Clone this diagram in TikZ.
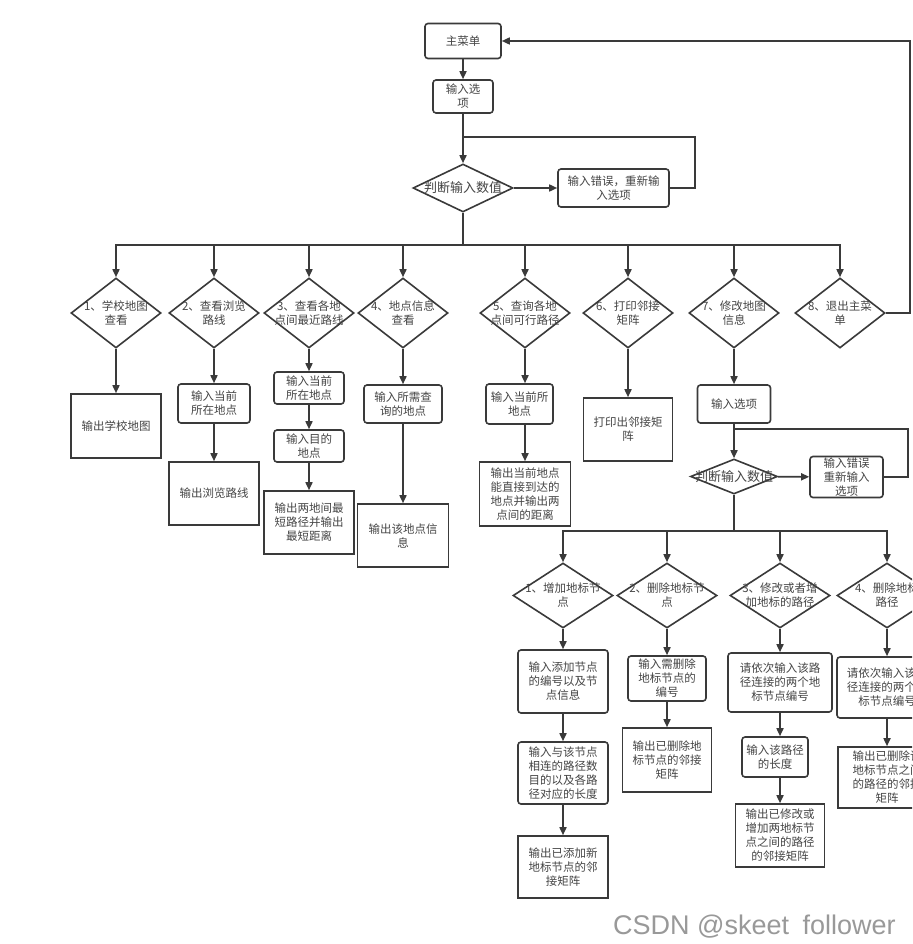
\documentclass[tikz,border=0pt]{standalone}
\usepackage{fontspec}
\setmainfont{Noto Sans CJK SC}
\newfontfamily\wmfont{Liberation Sans}
\usetikzlibrary{shapes.geometric,arrows.meta,calc}
\definecolor{lncol}{HTML}{3A3A3A}
\definecolor{txcol}{HTML}{454545}
\begin{document}
\begin{tikzpicture}[x=1pt,y=-1pt,
  every node/.style={font=\fontsize{11.5}{14}\selectfont, text=txcol},
  basebox/.style={draw=lncol, line width=1.6pt, align=center, inner sep=0pt, fill=white, rectangle},
  rbox/.style={basebox, rounded corners=3pt},
  sbox/.style={basebox},
  dia/.style={draw=lncol, line width=1.6pt, diamond, inner sep=0pt, fill=white},
  dtext/.style={align=center, inner sep=0pt},
  bigtext/.style={dtext, font=\fontsize{13}{15}\selectfont},
  arr/.style={draw=lncol, line width=1.6pt, -{Triangle[length=8pt,width=7pt]}},
  wire/.style={draw=lncol, line width=1.6pt}]
\useasboundingbox (0,0) rectangle (912,944);
\fill[white] (0,0) rectangle (912,944);
\clip (0,0) rectangle (912,944);

% ---------- top ----------
\node[rbox, minimum width=76, minimum height=35] (menu) at (463,41) {主菜单};
\node[rbox, minimum width=60, minimum height=33] (opt) at (463,96.5) {输入选\\项};
\node[dia, minimum width=100, minimum height=48] (jd) at (463,188) {};
\node[bigtext] (jdt) at (jd) {判断输入数值};
\node[rbox, minimum width=111, minimum height=38] (err) at (613.5,188) {输入错误，重新输\\入选项};
\coordinate (loopA) at (463,137);
\coordinate (loopAR) at (695,137);
\coordinate (bus) at (463,245);
\coordinate (retR) at (910,41);

\draw[arr] (menu) -- (opt);
\draw[arr] (opt) -- (jd);
\draw[arr] (jd) -- (err);
\draw[wire] (err.east) -| (loopAR) -- (loopA);
\draw[wire] (jd.south) -- (bus);

% ---------- main options ----------
\foreach \n/\x/\t in {d1/116/{1、学校地图\\查看}, d2/214/{2、查看浏览\\路线}, d3/309/{3、查看各地\\点间最近路线}, d4/403/{4、地点信息\\查看}, d5/525/{5、查询各地\\点间可行路径}, d6/628/{6、打印邻接\\矩阵}, d7/734/{7、修改地图\\信息}, d8/840/{8、退出主菜\\单}}{
  \node[dia, minimum width=90, minimum height=70] (\n) at (\x,313) {};
  \node[dtext] (\n t) at (\n) {\t};
  \draw[arr] (bus) -| (\n.north);
}
\draw[arr] (d8.east) -| (retR) -- (menu.east);

% column 1
\node[sbox, minimum width=90, minimum height=64] (o1) at (116,426) {输出学校地图};
\draw[arr] (d1) -- (o1);
% column 2
\node[rbox, minimum width=72, minimum height=39] (i2) at (214,403.5) {输入当前\\所在地点};
\node[sbox, minimum width=90, minimum height=63] (o2) at (214,493.5) {输出浏览路线};
\draw[arr] (d2) -- (i2);
\draw[arr] (i2) -- (o2);
% column 3
\node[rbox, minimum width=70, minimum height=32] (i3a) at (309,388) {输入当前\\所在地点};
\node[rbox, minimum width=70, minimum height=32] (i3b) at (309,446) {输入目的\\地点};
\node[sbox, minimum width=90, minimum height=63] (o3) at (309,522.5) {输出两地间最\\短路径并输出\\最短距离};
\draw[arr] (d3) -- (i3a);
\draw[arr] (i3a) -- (i3b);
\draw[arr] (i3b) -- (o3);
% column 4
\node[rbox, minimum width=78, minimum height=38] (i4) at (403,404) {输入所需查\\询的地点};
\node[sbox, minimum width=91, minimum height=63] (o4) at (403,535.5) {输出该地点信\\息};
\draw[arr] (d4) -- (i4);
\draw[arr] (i4) -- (o4);
% column 5
\node[rbox, minimum width=67, minimum height=40] (i5) at (519.5,404) {输入当前所\\地点};
\node[sbox, minimum width=91, minimum height=64] (o5) at (525,494) {输出当前地点\\能直接到达的\\地点并输出两\\点间的距离};
\draw[arr] (d5.south) -- (d5.south |- i5.north);
\draw[arr] (d5.south |- i5.south) -- (o5);
% column 6
\node[sbox, minimum width=89, minimum height=63] (o6) at (628,429.5) {打印出邻接矩\\阵};
\draw[arr] (d6) -- (o6);
% column 7
\node[rbox, minimum width=73, minimum height=38] (i7) at (734,404) {输入选项};
\node[dia, minimum width=87, minimum height=35] (jd2) at (734,476.5) {};
\node[bigtext] (jd2t) at (jd2) {判断输入数值};
\node[rbox, minimum width=73, minimum height=41] (err2) at (846.5,477) {输入错误\\重新输入\\选项};
\coordinate (loopB) at (734,429);
\coordinate (loopBR) at (908,429);
\coordinate (bus2) at (734,531);
\draw[arr] (d7) -- (i7);
\draw[arr] (i7) -- (jd2);
\draw[arr] (jd2) -- (err2);
\draw[wire] (err2.east) -| (loopBR) -- (loopB);
\draw[wire] (jd2.south) -- (bus2);

% ---------- sub options ----------
\foreach \n/\x/\t in {s1/563/{1、增加地标节\\点}, s2/667/{2、删除地标节\\点}, s3/780/{3、修改或者增\\加地标的路径}, s4/887/{4、删除地标\\路径}}{
  \node[dia, minimum width=100, minimum height=65] (\n) at (\x,595.5) {};
  \node[dtext] (\n t) at (\n) {\t};
  \draw[arr] (bus2) -| (\n.north);
}
% sub column 1
\node[rbox, minimum width=90, minimum height=63] (a1) at (563,681.5) {输入添加节点\\的编号以及节\\点信息};
\node[rbox, minimum width=90, minimum height=62] (a2) at (563,773) {输入与该节点\\相连的路径数\\目的以及各路\\径对应的长度};
\node[sbox, minimum width=90, minimum height=62] (a3) at (563,867) {输出已添加新\\地标节点的邻\\接矩阵};
\draw[arr] (s1) -- (a1);
\draw[arr] (a1) -- (a2);
\draw[arr] (a2) -- (a3);
% sub column 2
\node[rbox, minimum width=78, minimum height=45] (b1) at (667,678.5) {输入需删除\\地标节点的\\编号};
\node[sbox, minimum width=89, minimum height=64] (b2) at (667,760) {输出已删除地\\标节点的邻接\\矩阵};
\draw[arr] (s2) -- (b1);
\draw[arr] (b1) -- (b2);
% sub column 3
\node[rbox, minimum width=104, minimum height=59] (c1) at (780,682.5) {请依次输入该路\\径连接的两个地\\标节点编号};
\node[rbox, minimum width=66, minimum height=40] (c2) at (775,757) {输入该路径\\的长度};
\node[sbox, minimum width=89, minimum height=63] (c3) at (780,835.5) {输出已修改或\\增加两地标节\\点之间的路径\\的邻接矩阵};
\draw[arr] (s3) -- (c1);
\draw[arr] (c1.south) -- (c1.south |- c2.north);
\draw[arr] (c1.south |- c2.south) -- (c3);
% sub column 4
\node[rbox, minimum width=100, minimum height=61] (e1) at (887,687.5) {请依次输入该路\\径连接的两个地\\标节点编号};
\node[sbox, minimum width=98, minimum height=61] (e2) at (887,777.5) {输出已删除该\\地标节点之间\\的路径的邻接\\矩阵};
\draw[arr] (s4) -- (e1);
\draw[arr] (e1) -- (e2);

% watermark
\node[font=\wmfont\fontsize{27}{27}\selectfont, text=black!40, anchor=base west, inner sep=0pt] (wm) at (613,934) {CSDN @skeet\enspace follower};
\end{tikzpicture}
\end{document}
